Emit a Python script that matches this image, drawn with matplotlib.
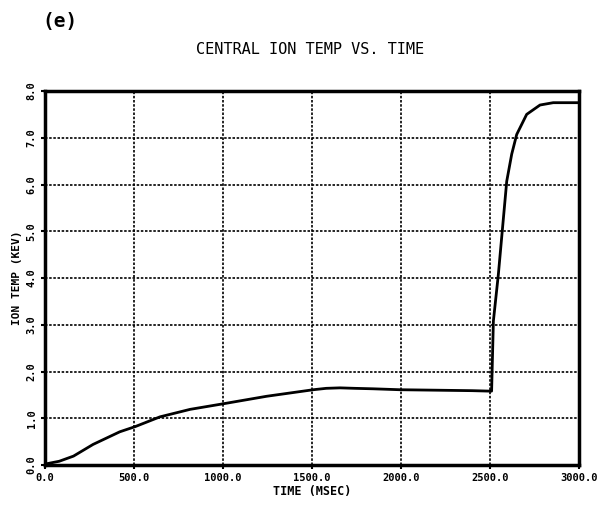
import numpy as np
import matplotlib
matplotlib.use("Agg")
import matplotlib.pyplot as plt

# Temperature ionique centrale (keV) en fonction du temps (ms)
temps = [0, 80, 160, 270, 420, 506, 646, 815, 1002, 1245, 1507, 1580,
         1657, 1740, 1843, 1994, 2200, 2400, 2500, 2509, 2519, 2547,
         2594, 2622, 2650, 2706, 2781, 2855, 3000]
temp_ion = [0.02, 0.08, 0.19, 0.44, 0.71, 0.82, 1.03, 1.19, 1.31, 1.47,
            1.61, 1.64, 1.65, 1.64, 1.63, 1.61, 1.60, 1.59, 1.58, 1.58,
            3.08, 4.08, 6.07, 6.65, 7.07, 7.50, 7.70, 7.75, 7.75]

xticks = [0, 500, 1000, 1500, 2000, 2500, 3000]
yticks = [0, 1, 2, 3, 4, 5, 6, 7, 8]

police = ['DejaVu Sans Mono']

fig = plt.figure(figsize=(6.05, 5.08), dpi=100)
ax = fig.add_axes([45/605, (508-465)/508, (579-45)/605, (465-91)/508])

ax.plot(temps, temp_ion, color='black', lw=2.0, solid_joinstyle='round')

ax.set_xlim(0, 3000)
ax.set_ylim(0, 8)
ax.set_xticks(xticks)
ax.set_yticks(yticks)
ax.set_xticklabels(['%.1f' % v for v in xticks], family=police,
                   fontsize=7.5, fontweight='bold')
ax.set_yticklabels(['%.1f' % v for v in yticks], family=police,
                   fontsize=7.5, fontweight='bold', rotation=90, va='center')
ax.tick_params(axis='both', length=3, width=1.5, direction='out', pad=3)

ax.grid(True, color='black', ls=(0, (1.5, 1.0)), lw=1.2)
for s in ax.spines.values():
    s.set_linewidth(2.5)

ax.set_xlabel('TIME (MSEC)', family=police, fontsize=8.5, fontweight='bold',
              labelpad=1)
ax.set_ylabel('ION TEMP (KEV)', family=police, fontsize=8,
              fontweight='bold', labelpad=3)

fig.text(310/605, 1 - 50/508, 'CENTRAL ION TEMP VS. TIME', family=police,
         fontsize=11, ha='center', va='center')
fig.text(42/605, 1 - 22/508, '(e)', family=police, fontsize=14,
         fontweight='bold', ha='left', va='center')

fig.savefig('out.png', dpi=100, facecolor='white')
